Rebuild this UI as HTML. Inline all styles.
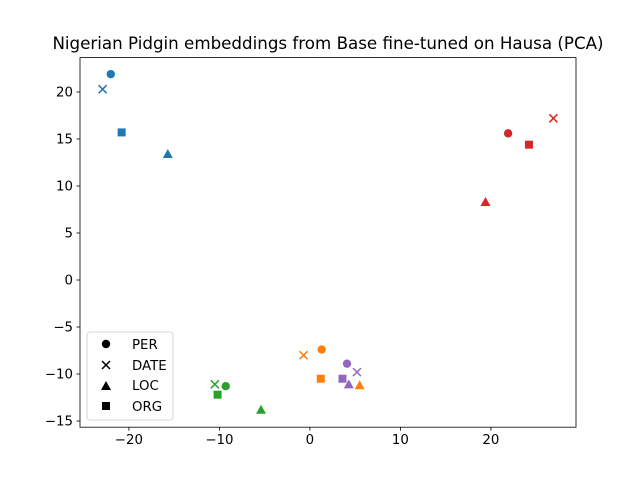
<!DOCTYPE html>
<html><head><meta charset="utf-8"><style>
body{margin:0;background:#fff;}
svg text{font-family:"DejaVu Sans","Liberation Sans",sans-serif;}
</style></head><body>
<svg id="chart" width="640" height="480" xmlns="http://www.w3.org/2000/svg">
<rect width="640" height="480" fill="#fff"/>
<text x="328" y="49" text-anchor="middle" font-size="16.7">Nigerian Pidgin embeddings from Base fine-tuned on Hausa (PCA)</text>
<g id="marks"></g>
<rect x="80" y="57.6" width="496" height="369.6" fill="none" stroke="#000" stroke-width="0.8"/>
<g id="axes"></g>
<g>
<rect x="87" y="332" width="86" height="88" rx="3" fill="#fff" stroke="#ccc" stroke-width="0.8"/>
<circle cx="106" cy="344" r="4.2" fill="#000"/>
<text x="132" y="349" font-size="13.33">PER</text>
<path d="M102,361 L110,369 M110,361 L102,369" stroke="#000" stroke-width="1.5"/>
<text x="132" y="370" font-size="13.33">DATE</text>
<path d="M106,381 L111,390 L101,390 Z" fill="#000"/>
<text x="132" y="390" font-size="13.33">LOC</text>
<rect x="102" y="402" width="8" height="8" fill="#000"/>
<text x="132" y="411" font-size="13.33">ORG</text>
</g>
</svg>
<script>
const clusters = ['blue','orange','green','purple','red'];
const clusterColors = ['#1f77b4','#ff7f0e','#2ca02c','#9467bd','#d62728'];
const entities = ['PER','DATE','LOC','ORG'];
const xValues = [
  [-22.0,-22.9,-15.7,-20.8],
  [1.3,-0.7,5.5,1.2],
  [-9.3,-10.5,-5.4,-10.2],
  [4.1,5.2,4.3,3.6],
  [21.9,26.9,19.4,24.2]
];
const yValues = [
  [21.9,20.3,13.4,15.7],
  [-7.4,-8.0,-11.2,-10.5],
  [-11.3,-11.1,-13.8,-12.2],
  [-8.9,-9.8,-11.1,-10.5],
  [15.6,17.2,8.3,14.4]
];
const xTicks = [-20,-10,0,10,20];
const yTicks = [-15,-10,-5,0,5,10,15,20];
const NS='http://www.w3.org/2000/svg';
const L=80,R=576,T=57.6,B=427.2, xmin=-25.4,xmax=29.4,ymin=-15.66,ymax=23.66;
const sx=v=>L+(v-xmin)/(xmax-xmin)*(R-L);
const sy=v=>B-(v-ymin)/(ymax-ymin)*(B-T);
const marks=document.getElementById('marks');
function mk(tag,attrs){const e=document.createElementNS(NS,tag);for(const k in attrs)e.setAttribute(k,attrs[k]);return e;}
clusters.forEach((c,ci)=>{entities.forEach((en,ei)=>{
  const x=sx(xValues[ci][ei]),y=sy(yValues[ci][ei]),col=clusterColors[ci];let e;
  if(en==='PER') e=mk('circle',{cx:x,cy:y,r:4.2,fill:col});
  else if(en==='DATE') e=mk('path',{d:`M${x-4},${y-4}L${x+4},${y+4}M${x+4},${y-4}L${x-4},${y+4}`,stroke:col,'stroke-width':1.5,fill:'none'});
  else if(en==='LOC') e=mk('path',{d:`M${x},${y-5}L${x+5},${y+4}L${x-5},${y+4}Z`,fill:col});
  else e=mk('rect',{x:x-4,y:y-4,width:8,height:8,fill:col});
  
  
  marks.appendChild(e);
});});
const axes=document.getElementById('axes');
xTicks.forEach(t=>{const x=sx(t);
  const l=mk('line',{x1:x,x2:x,y1:B,y2:B+3.5,stroke:'#000','stroke-width':0.8});
  
  
  axes.appendChild(l);
  const tx=mk('text',{x:x,y:B+17,'text-anchor':'middle','font-size':13.33});tx.textContent=t<0?'\u2212'+(-t):t;
  
  
  axes.appendChild(tx);});
yTicks.forEach(t=>{const y=sy(t);
  const l=mk('line',{x1:L-3.5,x2:L,y1:y,y2:y,stroke:'#000','stroke-width':0.8});
  
  
  axes.appendChild(l);
  const tx=mk('text',{x:L-7,y:y+4.5,'text-anchor':'end','font-size':13.33});tx.textContent=t<0?'\u2212'+(-t):t;
  
  
  axes.appendChild(tx);});
</script>
</body></html>
